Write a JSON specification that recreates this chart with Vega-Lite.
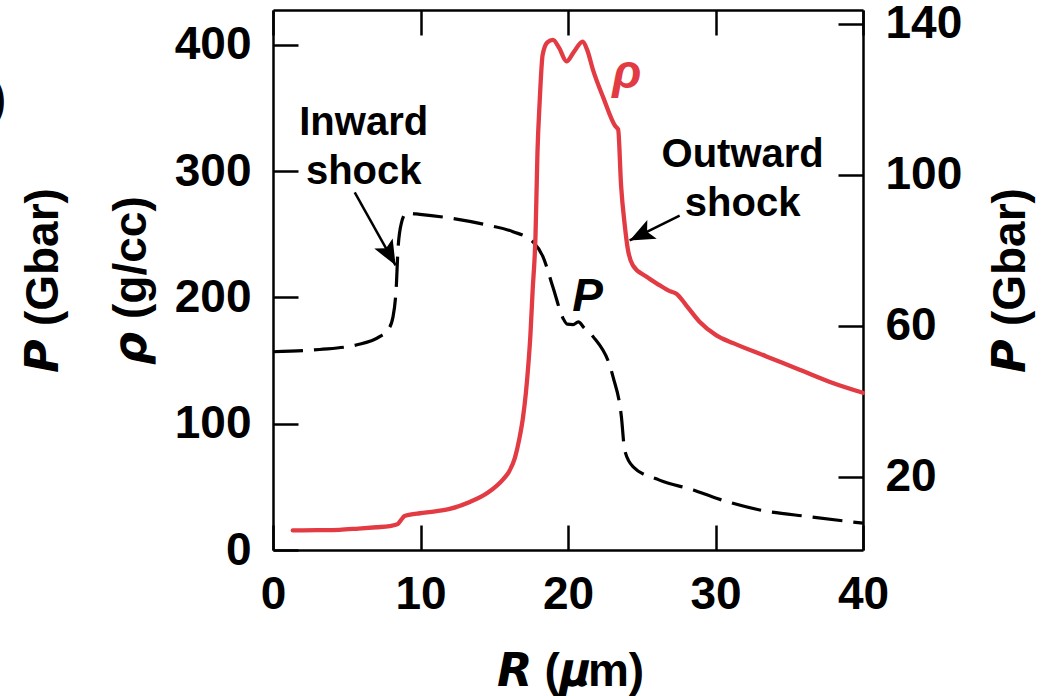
{
  "$schema": "https://vega.github.io/schema/vega-lite/v6.json",
  "width": 590,
  "height": 540,
  "autosize": {"type": "none"},
  "padding": {"left": 273, "top": 10, "right": 186, "bottom": 146},
  "background": "white",
  "config": {
    "view": {"stroke": null},
    "axis": {
      "grid": false,
      "domainColor": "black",
      "domainWidth": 2.5,
      "tickColor": "black",
      "tickWidth": 2.5,
      "tickSize": -25,
      "labelFont": "Liberation Sans",
      "labelFontWeight": "bold",
      "labelFontSize": 46,
      "labelColor": "black",
      "labelPadding": 47,
      "labelFlush": false,
      "labelOverlap": false,
      "titleFont": "Liberation Sans, DejaVu Sans",
      "titleFontWeight": "bold",
      "titleFontSize": 46,
      "titleColor": "black"
    }
  },
  "layer": [
    {
      "description": "Pressure profile, dashed, on the right-hand Gbar axis",
      "data": {"values": [
        {"R": 0, "P": 53.1}, {"R": 3.17, "P": 53.7}, {"R": 5.65, "P": 54.9}, {"R": 7.23, "P": 57.1},
        {"R": 7.8, "P": 58.9}, {"R": 8.14, "P": 62.4}, {"R": 8.37, "P": 71.2}, {"R": 8.47, "P": 80.0},
        {"R": 8.7, "P": 87.1}, {"R": 9.04, "P": 89.8}, {"R": 9.95, "P": 89.5}, {"R": 12.18, "P": 88.4},
        {"R": 14.47, "P": 86.7}, {"R": 16.27, "P": 84.9}, {"R": 17.63, "P": 82.2}, {"R": 18.3, "P": 78.3},
        {"R": 18.98, "P": 70.2}, {"R": 19.66, "P": 62.0}, {"R": 19.95, "P": 60.4}, {"R": 20.35, "P": 60.3},
        {"R": 20.7, "P": 61.0}, {"R": 21.1, "P": 59.4}, {"R": 21.7, "P": 57.1}, {"R": 23.05, "P": 46.5},
        {"R": 23.62, "P": 35.9}, {"R": 23.84, "P": 27.1}, {"R": 24.4, "P": 22.7}, {"R": 26.2, "P": 19.1},
        {"R": 28.5, "P": 16.5}, {"R": 30.06, "P": 14.3}, {"R": 33.0, "P": 11.2}, {"R": 36.4, "P": 9.4},
        {"R": 40, "P": 7.7}
      ]},
      "mark": {"type": "line", "color": "black", "strokeWidth": 3.2, "strokeDash": [30, 11], "interpolate": "monotone"},
      "encoding": {
        "x": {
          "field": "R", "type": "quantitative",
          "scale": {"domain": [0, 40], "nice": false, "zero": false},
          "axis": {"orient": "top", "labels": false, "title": null, "values": [0, 10, 20, 30, 40]}
        },
        "y": {
          "field": "P", "type": "quantitative",
          "scale": {"domain": [0.6, 143.6], "nice": false, "zero": false},
          "axis": {
            "orient": "right",
            "values": [20, 60, 100, 140],
            "title": "𝙋 (Gbar)",
            "titleAngle": -90,
            "titleAlign": "center",
            "titleBaseline": "middle",
            "titleX": 147,
            "titleY": 270
          }
        }
      }
    },
    {
      "description": "Density profile on the left-hand g/cc axis",
      "data": {"values": [
        {"R": 1.34, "rho": 15.5}, {"R": 3.0, "rho": 15.7}, {"R": 4.5, "rho": 16.0}, {"R": 5.8, "rho": 17.0},
        {"R": 7.0, "rho": 18.0}, {"R": 7.9, "rho": 18.9}, {"R": 8.45, "rho": 20.5}, {"R": 8.7, "rho": 24.0},
        {"R": 8.9, "rho": 26.8}, {"R": 9.3, "rho": 28.0}, {"R": 9.95, "rho": 29.1}, {"R": 11.0, "rho": 30.6},
        {"R": 11.98, "rho": 32.5}, {"R": 13.3, "rho": 37.8}, {"R": 14.6, "rho": 45.7}, {"R": 15.6, "rho": 56.0},
        {"R": 16.0, "rho": 62.0}, {"R": 16.4, "rho": 73.0}, {"R": 16.7, "rho": 88.0}, {"R": 16.95, "rho": 105.0},
        {"R": 17.15, "rho": 125.0}, {"R": 17.3, "rho": 145.0}, {"R": 17.45, "rho": 170.0}, {"R": 17.6, "rho": 205.0},
        {"R": 17.8, "rho": 250.0}, {"R": 17.93, "rho": 315.0}, {"R": 18.08, "rho": 355.0}, {"R": 18.28, "rho": 392.0},
        {"R": 18.6, "rho": 402.0}, {"R": 18.98, "rho": 404.0}, {"R": 19.4, "rho": 397.6}, {"R": 19.9, "rho": 386.9},
        {"R": 20.4, "rho": 394.5}, {"R": 21.0, "rho": 402.6}, {"R": 21.3, "rho": 396.0}, {"R": 21.7, "rho": 380.0},
        {"R": 22.4, "rho": 358.0}, {"R": 23.2, "rho": 335.7}, {"R": 23.4, "rho": 333.0}, {"R": 23.6, "rho": 288.4},
        {"R": 23.85, "rho": 257.0}, {"R": 24.05, "rho": 238.6}, {"R": 24.4, "rho": 225.4}, {"R": 25.3, "rho": 216.5},
        {"R": 26.2, "rho": 209.7}, {"R": 26.9, "rho": 205.0}, {"R": 27.35, "rho": 203.0}, {"R": 28.0, "rho": 194.0},
        {"R": 28.9, "rho": 181.0}, {"R": 30.06, "rho": 170.0}, {"R": 31.2, "rho": 163.8}, {"R": 33.45, "rho": 153.3},
        {"R": 35.7, "rho": 142.8}, {"R": 37.95, "rho": 132.3}, {"R": 40, "rho": 124.5}
      ]},
      "mark": {"type": "line", "color": "#e23b43", "strokeWidth": 4.3, "interpolate": "monotone", "strokeCap": "round"},
      "encoding": {
        "x": {
          "field": "R", "type": "quantitative",
          "scale": {"domain": [0, 40], "nice": false, "zero": false},
          "axis": {
            "orient": "bottom",
            "values": [0, 10, 20, 30, 40],
            "title": "𝙍 (𝝁m)",
            "titleAlign": "center",
            "titleBaseline": "alphabetic",
            "titleX": 297,
            "titleY": 135
          }
        },
        "y": {
          "field": "rho", "type": "quantitative",
          "scale": {"domain": [0, 427.6], "nice": false, "zero": false},
          "axis": {
            "orient": "left",
            "values": [0, 100, 200, 300, 400],
            "title": ["𝙋 (Gbar)", "𝞺 (g/cc)"],
            "titleAngle": -90,
            "titleAlign": "center",
            "titleBaseline": "middle",
            "titleLineHeight": 88,
            "titleX": -230,
            "titleY": 270
          }
        }
      }
    },
    {
      "data": {"values": [
        {"R": 6.15, "rho": 328.3, "note": "Inward\nshock"},
        {"R": 31.84, "rho": 303.1, "note": "Outward\nshock"}
      ]},
      "mark": {"type": "text", "font": "Liberation Sans", "fontWeight": "bold", "fontSize": 40, "lineBreak": "\n", "lineHeight": 48.5, "align": "center", "baseline": "alphabetic", "color": "black"},
      "encoding": {
        "x": {"field": "R", "type": "quantitative", "scale": {"domain": [0, 40], "nice": false, "zero": false}, "axis": null},
        "y": {"field": "rho", "type": "quantitative", "scale": {"domain": [0, 427.6], "nice": false, "zero": false}, "axis": null},
        "text": {"field": "note"}
      }
    },
    {
      "data": {"values": [{"R": 23.99, "rho": 366, "note": "ρ"}]},
      "mark": {"type": "text", "font": "Liberation Sans", "fontWeight": "bold", "fontStyle": "italic", "fontSize": 48, "align": "center", "baseline": "alphabetic", "color": "#e23b43"},
      "encoding": {
        "x": {"field": "R", "type": "quantitative", "scale": {"domain": [0, 40], "nice": false, "zero": false}, "axis": null},
        "y": {"field": "rho", "type": "quantitative", "scale": {"domain": [0, 427.6], "nice": false, "zero": false}, "axis": null},
        "text": {"field": "note"}
      }
    },
    {
      "data": {"values": [{"R": 21.33, "rho": 189, "note": "P"}]},
      "mark": {"type": "text", "font": "Liberation Sans", "fontWeight": "bold", "fontStyle": "italic", "fontSize": 46, "align": "center", "baseline": "alphabetic", "color": "black"},
      "encoding": {
        "x": {"field": "R", "type": "quantitative", "scale": {"domain": [0, 40], "nice": false, "zero": false}, "axis": null},
        "y": {"field": "rho", "type": "quantitative", "scale": {"domain": [0, 427.6], "nice": false, "zero": false}, "axis": null},
        "text": {"field": "note"}
      }
    },
    {
      "data": {"values": [{"R": -18.1, "rho": 356.7, "note": ")"}]},
      "mark": {"type": "text", "font": "Liberation Sans", "fontWeight": "bold", "fontSize": 46, "align": "right", "baseline": "middle", "color": "black"},
      "encoding": {
        "x": {"field": "R", "type": "quantitative", "scale": {"domain": [0, 40], "nice": false, "zero": false}, "axis": null},
        "y": {"field": "rho", "type": "quantitative", "scale": {"domain": [0, 427.6], "nice": false, "zero": false}, "axis": null},
        "text": {"field": "note"}
      }
    },
    {
      "data": {"values": [
        {"arrow": "inward", "R_tail": 5.54, "rho_tail": 283.2, "R_tip": 8.31, "rho_tip": 225.4},
        {"arrow": "outward", "R_tail": 27.57, "rho_tail": 264.8, "R_tip": 24.18, "rho_tip": 245.1}
      ]},
      "mark": {"type": "rule", "color": "black", "strokeWidth": 2.5},
      "encoding": {
        "x": {"field": "R_tail", "type": "quantitative", "scale": {"domain": [0, 40], "nice": false, "zero": false}, "axis": null},
        "x2": {"field": "R_tip"},
        "y": {"field": "rho_tail", "type": "quantitative", "scale": {"domain": [0, 427.6], "nice": false, "zero": false}, "axis": null},
        "y2": {"field": "rho_tip"}
      }
    },
    {
      "data": {"values": [{"arrow": "inward", "R_tip": 8.31, "rho_tip": 225.4}]},
      "mark": {"type": "point", "filled": true, "color": "black", "opacity": 1, "shape": "M0,0L-1,-0.42L-0.78,0L-1,0.42Z", "size": 2500, "angle": 61},
      "encoding": {
        "x": {"field": "R_tip", "type": "quantitative", "scale": {"domain": [0, 40], "nice": false, "zero": false}, "axis": null},
        "y": {"field": "rho_tip", "type": "quantitative", "scale": {"domain": [0, 427.6], "nice": false, "zero": false}, "axis": null}
      }
    },
    {
      "data": {"values": [{"arrow": "outward", "R_tip": 24.18, "rho_tip": 245.1}]},
      "mark": {"type": "point", "filled": true, "color": "black", "opacity": 1, "shape": "M0,0L-1,-0.42L-0.78,0L-1,0.42Z", "size": 2500, "angle": 153.4},
      "encoding": {
        "x": {"field": "R_tip", "type": "quantitative", "scale": {"domain": [0, 40], "nice": false, "zero": false}, "axis": null},
        "y": {"field": "rho_tip", "type": "quantitative", "scale": {"domain": [0, 427.6], "nice": false, "zero": false}, "axis": null}
      }
    }
  ],
  "resolve": {"scale": {"y": "independent"}, "axis": {"x": "independent"}}
}
